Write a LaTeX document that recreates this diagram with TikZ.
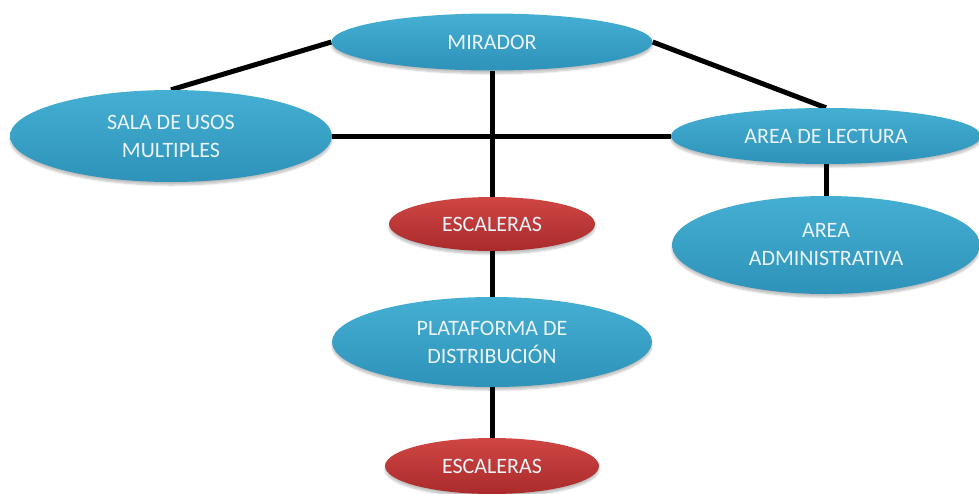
\documentclass[tikz,border=0pt]{standalone}
\usepackage{fontspec}
\setmainfont{Carlito}
\usetikzlibrary{shapes.geometric,shadows.blur,backgrounds}
\definecolor{bluetop}{HTML}{45AFD3}
\definecolor{bluebot}{HTML}{2E92B9}
\definecolor{redtop}{HTML}{CF4644}
\definecolor{redbot}{HTML}{AA2A2B}
\definecolor{txt}{HTML}{EAF4F8}
\begin{document}
\begin{tikzpicture}[x=1pt,y=-1pt,
  bubble/.style={ellipse, inner sep=0pt, text=txt, align=center,
    font=\fontsize{22}{28}\selectfont,
    blur shadow={shadow xshift=0pt, shadow yshift=-3pt, shadow blur steps=6, shadow opacity=25}},
  bluebub/.style={bubble, top color=bluetop, bottom color=bluebot},
  redbub/.style={bubble, top color=redtop, bottom color=redbot},
  link/.style={line width=5pt, black}]
\useasboundingbox (0,0) rectangle (979,493);
\path (492,42) node[bluebub, minimum width=321pt, minimum height=57pt] (mir) {MIRADOR};
\path (171,136) node[bluebub, minimum width=322pt, minimum height=92pt] (sala) {SALA DE USOS\\MULTIPLES};
\path (826,136) node[bluebub, minimum width=310pt, minimum height=56pt] (lect) {AREA DE LECTURA};
\path (492,224) node[redbub, minimum width=206pt, minimum height=54pt] (esc1) {ESCALERAS};
\path (826,245) node[bluebub, minimum width=308pt, minimum height=98pt] (adm) {AREA\\ADMINISTRATIVA};
\path (492,342) node[bluebub, minimum width=320pt, minimum height=90pt] (plat) {PLATAFORMA DE\\DISTRIBUCIÓN};
\path (492,466) node[redbub, minimum width=214pt, minimum height=56pt] (esc2) {ESCALERAS};
\begin{scope}[on background layer]
\draw[link] (mir.west) -- (sala.north);
\draw[link] (mir.east) -- (lect.north);
\draw[link] (sala.east) -- (lect.west);
\draw[link] (mir.south) -- (esc1.north);
\draw[link] (lect.south) -- (adm.north);
\draw[link] (esc1.south) -- (plat.north);
\draw[link] (plat.south) -- (esc2.north);
\end{scope}
\end{tikzpicture}
\end{document}
